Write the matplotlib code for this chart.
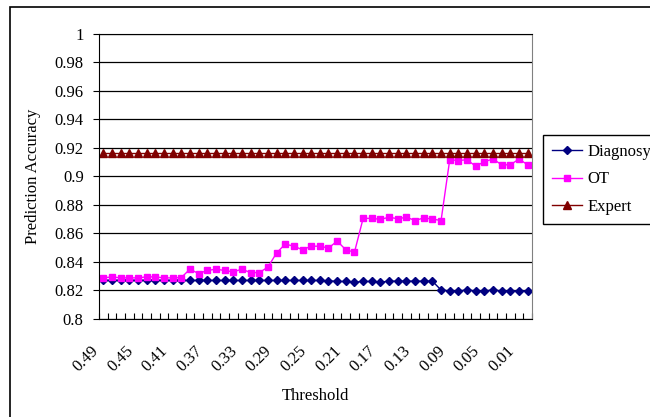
import matplotlib
matplotlib.use("Agg")
import matplotlib.pyplot as plt
import matplotlib.transforms as mtransforms
from matplotlib.patches import Rectangle
from matplotlib.ticker import FixedLocator, NullFormatter

plt.rcParams['font.family'] = ['Liberation Serif', 'DejaVu Serif']

# thresholds 0.49 -> 0.00
thresholds = [round(0.49 - 0.01 * i, 2) for i in range(50)]

diagnosys = [0.827] * 26 + [0.8268, 0.8263, 0.8263, 0.8258, 0.8263, 0.8263, 0.8258,
                            0.8265, 0.8265, 0.8265, 0.8265, 0.8265, 0.8265,
                            0.8203, 0.8197, 0.8197, 0.8203, 0.8197, 0.8197, 0.8203,
                            0.8197, 0.8197, 0.8197, 0.8197]

ot = [0.8288, 0.8295, 0.8288, 0.8288, 0.8288, 0.8295, 0.8295, 0.8288, 0.8288, 0.829,
      0.8349, 0.8318, 0.834, 0.8349, 0.834, 0.833, 0.8349, 0.8325, 0.8325, 0.8363,
      0.8462, 0.8525, 0.851, 0.8485, 0.851, 0.851, 0.8497, 0.8546, 0.8485, 0.8468,
      0.8705, 0.8705, 0.8698, 0.8713, 0.8702, 0.8713, 0.869, 0.8708, 0.87, 0.869,
      0.9116, 0.911, 0.9116, 0.907, 0.9102, 0.9121, 0.908, 0.908, 0.9121, 0.908]

expert = [0.916] * 50

fig = plt.figure(figsize=(6.5, 4.17), dpi=100)
ax = fig.add_axes([99 / 650, 1 - 319 / 417, 433 / 650, 285.5 / 417])

x = list(range(len(thresholds)))
ax.plot(x, diagnosys, color='#000080', marker='D', markersize=4.5, linewidth=1, label='Diagnosys')
ax.plot(x, ot, color='#FF00FF', marker='s', markersize=5, linewidth=1, label='OT')
ax.plot(x, expert, color='#800000', marker='^', markersize=5.5, linewidth=1, label='Expert')

ax.set_xlim(-0.5, len(x) - 0.5)
ax.set_ylim(0.8, 1.0)
ax.set_yticks([0.8 + 0.02 * k for k in range(11)])
ax.set_yticklabels(['0.8', '0.82', '0.84', '0.86', '0.88', '0.9', '0.92', '0.94', '0.96', '0.98', '1'])
ax.yaxis.grid(True, color='black', linewidth=0.9)
ax.set_axisbelow(True)

# category labels every 4th threshold, tick marks between categories
ax.set_xticks(x[::4])
ax.set_xticklabels([f'{t:.2f}' for t in thresholds[::4]], rotation=45,
                   ha='right', va='center', rotation_mode='anchor')
ax.tick_params(axis='x', which='major', length=0, pad=21, labelsize=12)
shift = mtransforms.ScaledTranslation(-7 / 100, 0, fig.dpi_scale_trans)
for lbl in ax.get_xticklabels():
    lbl.set_transform(lbl.get_transform() + shift)
ax.xaxis.set_minor_locator(FixedLocator([i + 0.5 for i in range(-1, len(x))]))
ax.xaxis.set_minor_formatter(NullFormatter())
ax.tick_params(axis='x', which='minor', length=4, direction='in', width=0.8)
ax.tick_params(axis='y', length=4, direction='out', width=0.8, labelsize=12, pad=7)

for side in ['left', 'bottom', 'top']:
    ax.spines[side].set_color('black')
ax.spines['right'].set_color('#808080')

ax.set_ylabel('Prediction Accuracy', fontsize=12, labelpad=10)
ax.set_xlabel('Threshold', fontsize=12, labelpad=10)

fig.legend(loc='upper left', bbox_to_anchor=(543 / 650, 1 - 135 / 417), fontsize=12,
           frameon=True, fancybox=False, edgecolor='black', framealpha=1,
           handlelength=1.8, borderpad=0.55, labelspacing=0.68, handletextpad=0.3,
           borderaxespad=0)

# chart area border
fig.add_artist(Rectangle((9.5 / 650, -0.2), 1.2, 0.2 + (1 - 7 / 417), transform=fig.transFigure,
                         fill=False, edgecolor='black', linewidth=1.2))

fig.savefig('out.png', dpi=100)
